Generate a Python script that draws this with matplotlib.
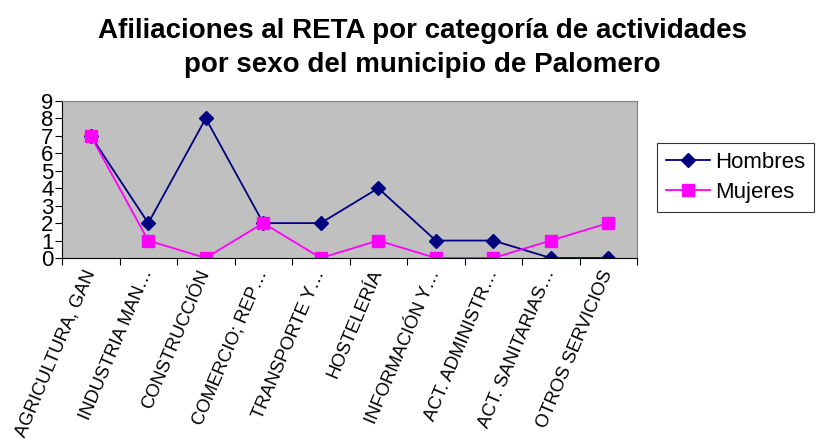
import matplotlib
matplotlib.use("Agg")
import matplotlib.pyplot as plt
import numpy as np

plt.rcParams['font.family'] = ['Liberation Sans', 'DejaVu Sans']

categories = ["AGRICULTURA, GAN", "INDUSTRIA MAN…", "CONSTRUCCIÓN", "COMERCIO; REP…",
              "TRANSPORTE Y…", "HOSTELERÍA", "INFORMACIÓN Y…", "ACT. ADMINISTR…",
              "ACT. SANITARIAS…", "OTROS SERVICIOS"]
hombres = [7, 2, 8, 2, 2, 4, 1, 1, 0, 0]
mujeres = [7, 1, 0, 2, 0, 1, 0, 0, 1, 2]
y_ticks = list(range(0, 10))
title = "Afiliaciones al RETA por categoría de actividades\npor sexo del municipio de Palomero"

fig = plt.figure(figsize=(8.18, 4.47), dpi=100)
ax = fig.add_axes([62/818, 1-258/447, (637-62)/818, (258-101)/447])
ax.set_facecolor('#C0C0C0')

x = np.arange(len(categories))
ax.plot(x, hombres, color='#000080', marker='D', markersize=7, lw=1.3, label='Hombres')
ax.plot(x, mujeres, color='#FF00FF', marker='s', markersize=8, lw=1.3, label='Mujeres')

ax.set_xlim(-0.5, len(categories)-0.5)
ax.set_ylim(0, 9)
ax.set_yticks(y_ticks)
ax.set_yticklabels([str(v) for v in y_ticks], fontsize=16)
ax.tick_params(axis='y', length=5, pad=1, labelsize=16)
ax.set_xticks(np.arange(len(categories)+1)-0.5)
ax.set_xticklabels([])
ax.tick_params(axis='x', length=5)
ax.set_xticks(x, minor=True)
ax.set_xticklabels(categories, minor=True, rotation=67, ha='right', va='center',
                   rotation_mode='anchor', fontsize=13.2)
ax.tick_params(axis='x', which='minor', length=0, pad=9)

for s in ['top', 'right']:
    ax.spines[s].set_color('#808080')
for s in ['left', 'bottom']:
    ax.spines[s].set_color('black')

fig.text(422/818, 1-48/447, title, ha='center', va='center', fontsize=20,
         fontweight='bold', linespacing=1.38)

leg = fig.legend(loc='center', bbox_to_anchor=(735.5/818, 1-177.5/447), fontsize=16,
                 frameon=True, fancybox=False, edgecolor='black', handlelength=2.0,
                 borderpad=0.4, labelspacing=0.4, handletextpad=0.2)
leg.get_frame().set_linewidth(0.8)

fig.savefig('out.png', dpi=100)
